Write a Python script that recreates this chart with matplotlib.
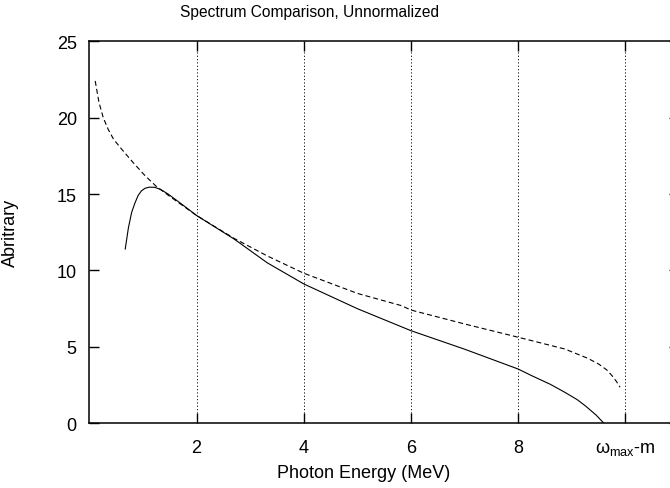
import matplotlib
matplotlib.use("Agg")
import matplotlib.pyplot as plt

plt.rcParams['font.family'] = ['Liberation Sans', 'DejaVu Sans']
plt.rcParams['mathtext.fontset'] = 'custom'
plt.rcParams['mathtext.rm'] = 'Liberation Sans'
plt.rcParams['mathtext.it'] = 'Liberation Sans'
plt.rcParams['lines.scale_dashes'] = False

# Data
solid_x = [0.67, 0.73, 0.79, 0.85, 0.91, 0.97, 1.04, 1.12, 1.22, 1.33, 1.47, 1.7, 2.0, 2.7, 3.32, 4.0, 5.0, 6.0, 7.0, 8.0, 8.25, 8.6, 8.87, 9.1, 9.25, 9.45, 9.6]
solid_y = [11.4, 12.8, 13.8, 14.4, 14.9, 15.2, 15.38, 15.45, 15.44, 15.3, 15.0, 14.4, 13.6, 12.06, 10.5, 9.12, 7.5, 6.06, 4.85, 3.55, 3.12, 2.55, 2.03, 1.55, 1.15, 0.55, 0.0]

dashed_x = [0.11, 0.18, 0.26, 0.35, 0.45, 0.6, 0.82, 1.04, 1.25, 1.5, 2.0, 2.7, 3.32, 4.0, 5.0, 5.82, 6.0, 7.0, 8.0, 8.25, 8.87, 9.3, 9.5, 9.65, 9.75, 9.83, 9.9]
dashed_y = [22.4, 21.0, 20.0, 19.25, 18.6, 17.95, 17.05, 16.2, 15.5, 14.85, 13.6, 12.1, 10.95, 9.82, 8.5, 7.7, 7.41, 6.5, 5.63, 5.41, 4.86, 4.25, 3.88, 3.5, 3.12, 2.75, 2.36]

x_ticks = [2, 4, 6, 8, 10]
x_tick_labels = ['2', '4', '6', '8', r'$\omega_{\mathrm{max}}$-m']
y_ticks = [0, 5, 10, 15, 20, 25]

W, H = 670, 489
fig = plt.figure(figsize=(W / 100, H / 100), dpi=100)
ax = fig.add_axes([89.3 / W, 1 - 424.3 / H, (679 - 89.3) / W, (424.3 - 42.2) / H])

ax.plot(solid_x, solid_y, color='black', lw=0.8)
ax.plot(dashed_x, dashed_y, color='black', lw=0.8, linestyle=(0, (3.6, 2.2)))

ax.set_xlim(0, 11)
ax.set_ylim(0, 25)
ax.set_xticks(x_ticks)
ax.set_xticklabels(x_tick_labels)
ax.set_yticks(y_ticks)

for xv in x_ticks:
    ax.axvline(xv, color='black', lw=0.7, linestyle=(0, (0.8, 1.6)), zorder=0)

ax.tick_params(direction='in', length=7, width=1.0, top=True, right=True,
               labelsize=13)
ax.tick_params(axis='x', pad=11)
ax.tick_params(axis='y', pad=9)
for sp in ax.spines.values():
    sp.set_linewidth(1.1)

fig.text(364 / W, 1 - 474 / H, 'Photon Energy (MeV)', fontsize=13, ha='center', va='center')
fig.text(10 / W, 1 - 233 / H, 'Abritrary', fontsize=13, ha='center', va='center', rotation=90)
fig.text(310 / W, 1 - 13 / H, 'Spectrum Comparison, Unnormalized', fontsize=11.2, ha='center', va='center')

fig.savefig('out.png', dpi=100)
